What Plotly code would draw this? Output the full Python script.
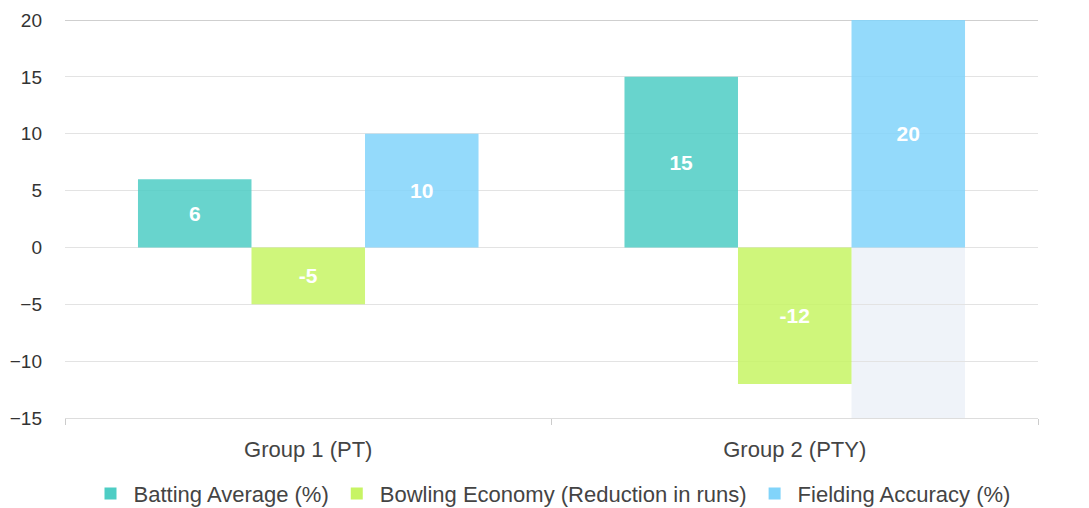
import plotly.graph_objects as go

categories = ["Group 1 (PT)", "Group 2 (PTY)"]
batting = [6, 15]
bowling = [-5, -12]
fielding = [10, 20]
series_names = ["Batting Average (%)", "Bowling Economy (Reduction in runs)", "Fielding Accuracy (%)"]
colors = ["#4ECDC4", "#C7F464", "#81D4FA"]
y_ticks = [-15, -10, -5, 0, 5, 10, 15, 20]

fig = go.Figure()
for name, vals, col in zip(series_names, [batting, bowling, fielding], colors):
    fig.add_trace(go.Bar(
        x=categories, y=vals, name=name,
        marker=dict(color=col, opacity=0.85, line=dict(width=0)),
        text=[str(v) for v in vals], textposition="inside",
        insidetextanchor="middle", constraintext="none",
        textfont=dict(color="white", size=21, family="Liberation Sans", weight="bold"),
        hoverinfo="skip",
    ))

# hover-shadow band below the Group 2 fielding bar
fig.add_shape(type="rect", xref="x", yref="y", x0=1 + 0.7/6, x1=1 + 0.35,
              y0=-15, y1=0, fillcolor="#EFF3F9", line=dict(width=0), layer="below")
# darker top line
fig.add_shape(type="line", xref="paper", yref="y", x0=0, x1=1, y0=20, y1=20,
              line=dict(color="#A0A0A0", width=1), layer="below")

fig.update_layout(
    width=1089, height=508,
    margin=dict(l=65, r=51, t=20, b=90, autoexpand=False),
    paper_bgcolor="white", plot_bgcolor="white",
    barmode="group", bargap=0.3, bargroupgap=0,
    font=dict(family="Liberation Sans", size=18, color="#444444"),
    showlegend=True,
    legend=dict(orientation="h", x=0.5, xanchor="center", yref="container", y=0.028, yanchor="middle",
                font=dict(size=22, color="#444444"), traceorder="normal", itemwidth=36),
    xaxis=dict(type="category", tickson="boundaries", ticks="outside", ticklen=6, tickcolor="#CCCCCC",
               showline=True, linecolor="#DDDDDD", linewidth=1, showgrid=False, automargin=False,
               tickfont=dict(size=22, color="#444444"), ticklabelstandoff=12),
    yaxis=dict(range=[-15, 20], tickvals=y_ticks, showgrid=True, gridcolor="#E3E3E3", gridwidth=1,
               zeroline=False, showline=False, ticks="", automargin=False,
               tickfont=dict(size=19, color="#333333"), ticklabelstandoff=22),
)
fig.write_html("out.html")
